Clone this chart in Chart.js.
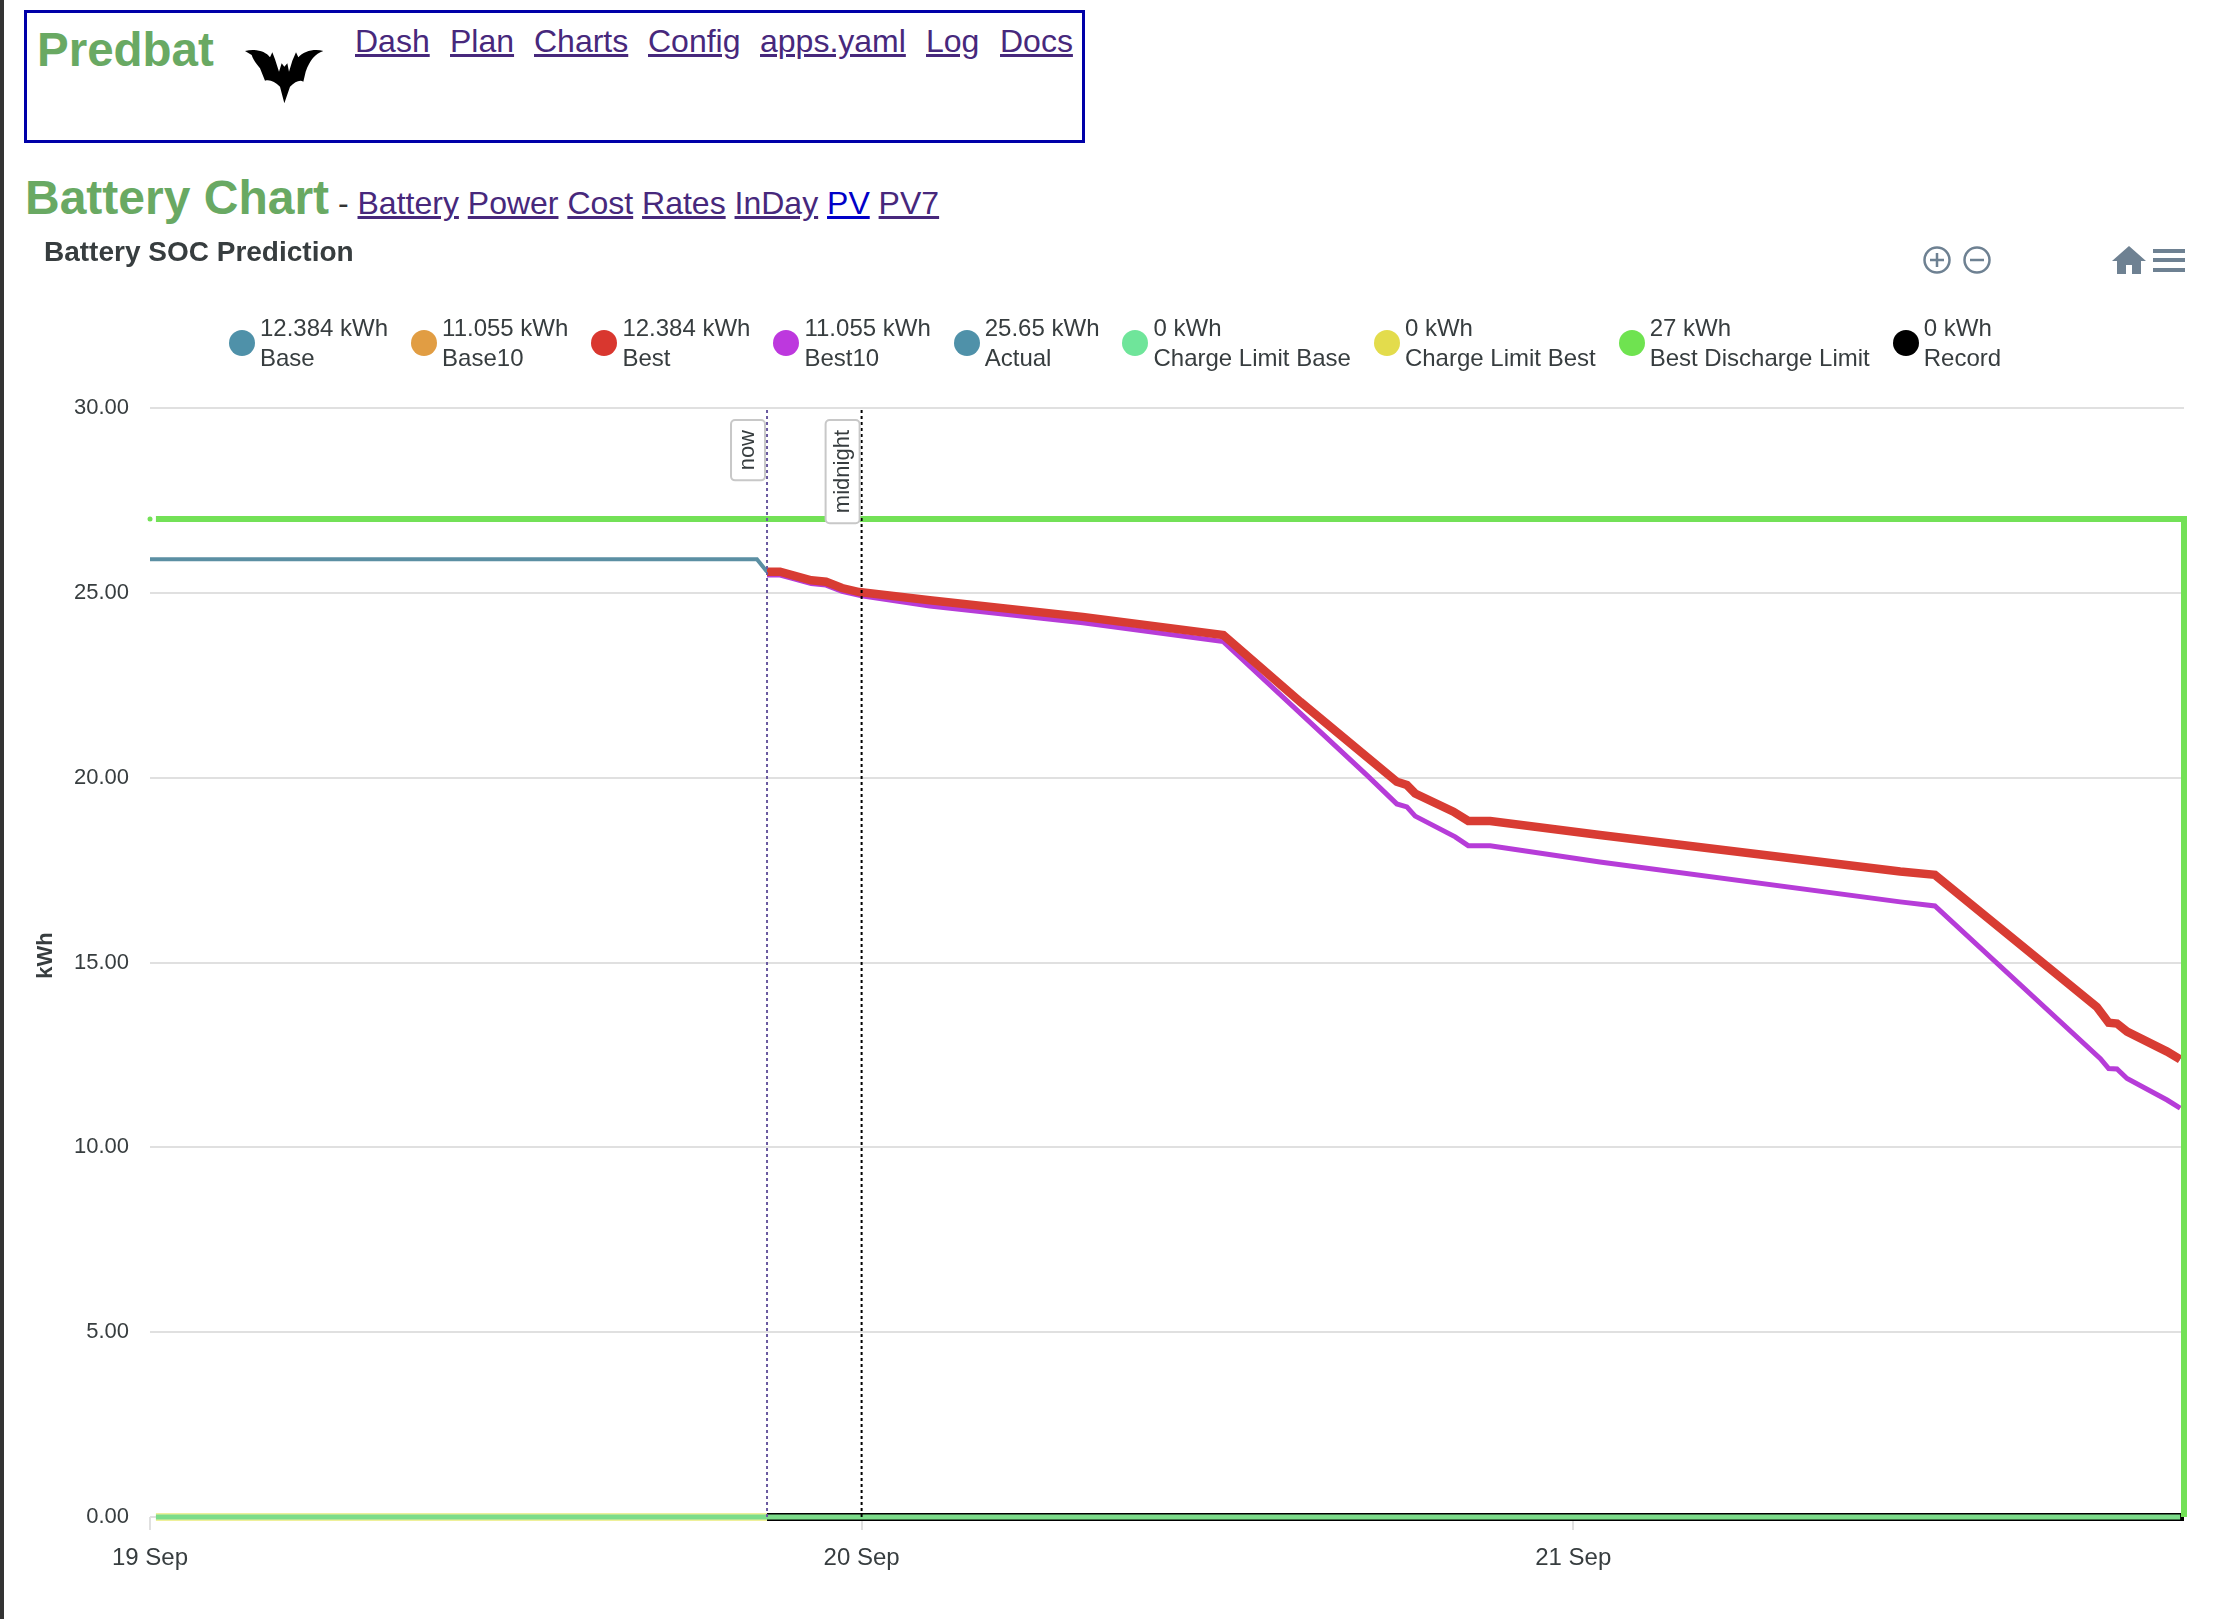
<!DOCTYPE html>
<html>
<head>
<meta charset="utf-8">
<title>Predbat Battery Chart</title>
<script src="https://cdn.jsdelivr.net/npm/chart.js@4/dist/chart.umd.min.js"></script>
<style>
    html, body { margin: 0; padding: 0; background: #fff; width: 2224px; height: 1619px; overflow: hidden; font-family: "Liberation Sans", Arial, sans-serif; }
    #edge { position: absolute; left: 0; top: 0; width: 4px; height: 1619px; background: #333; }
    #menu { position: absolute; left: 24px; top: 10px; width: 1055px; height: 127px; border: 3px solid #0000a8; }
    .logo { position: absolute; white-space: nowrap; color: #69a963; font-weight: bold; font-size: 47.5px; line-height: 54px; }
    a { color: #47287c; text-decoration: underline; font-size: 32px; position: absolute; white-space: nowrap; line-height: 38px; }
    a.fresh { color: #0000c8; }
    #heading { position: absolute; left: 25px; top: 171px; white-space: nowrap; color: #333; font-size: 32px; line-height: 54px; }
    #heading b.green { color: #69a963; font-size: 48px; }
    #heading a { position: static; }
    #bat { position: absolute; left: 235px; top: 40px; }
    #tools { position: absolute; left: 1900px; top: 230px; }
    canvas { position: absolute; left: 0; top: 220px; }
    #legend { position: absolute; left: 229px; top: 313px; display: flex; white-space: nowrap; color: #373d3f; font-size: 24px; line-height: 30px; }
    #legend .item { display: flex; align-items: center; margin-right: 23px; }
    #legend .dot { width: 26px; height: 26px; border-radius: 50%; margin-right: 5px; }
</style>
</head>
<body>
<div id="edge"></div>
<div id="menu"></div>
<div class="logo" style="left:37px;top:23px">Predbat</div>
<svg id="bat" width="100" height="70" viewBox="0 0 300 210"><path fill="#000" d="M30,33 C60,25 92,33 105,52 L112,37 L120,58 L132,95 L140,70 L148,80 L157,70 L162,95 L172,62 L183,37 L190,52 C205,33 240,25 265,33 C240,42 225,60 212,95 L205,125 C195,118 180,125 165,140 L148,190 L135,140 C120,125 105,118 90,122 L75,85 C65,70 55,62 50,45 Z"/></svg>
<a style="left:355px;top:22px">Dash</a>
<a style="left:450px;top:22px">Plan</a>
<a style="left:534px;top:22px">Charts</a>
<a style="left:648px;top:22px">Config</a>
<a style="left:760px;top:22px">apps.yaml</a>
<a style="left:926px;top:22px">Log</a>
<a style="left:1000px;top:22px">Docs</a>
<div id="heading"><b class="green">Battery Chart</b> - <a>Battery</a> <a>Power</a> <a>Cost</a> <a>Rates</a> <a>InDay</a> <a class="fresh">PV</a> <a>PV7</a></div>
<svg id="tools" width="300" height="60" viewBox="0 0 300 60">
    <g fill="none" stroke="#6e8192" stroke-width="2.5">
        <circle cx="37" cy="30" r="12.5"/><path d="M37,23 V37 M30,30 H44"/>
        <circle cx="77" cy="30" r="12.5"/><path d="M70,30 H84"/>
    </g>
    <path fill="#6e8192" d="M229,16 L212,31 H217 V44 H226 V35 H232 V44 H241 V31 H246 Z"/>
    <path fill="#6e8192" d="M253,19 H285 V23 H253 Z M253,28 H285 V32 H253 Z M253,38 H285 V42 H253 Z"/>
</svg>
<canvas id="chart" width="2224" height="1399"></canvas>
<div id="legend"></div>
<script>
"use strict";

// time axis is hours from 19 Sep 00:00
const dayLabels = ["19 Sep", "20 Sep", "21 Sep"];
const endHour = 68.6;
const nowHour = 20.81;
const midnightHour = 24;

const seriesNames = ["Base", "Base10", "Best", "Best10", "Actual", "Charge Limit Base", "Charge Limit Best", "Best Discharge Limit", "Record"];
const legendValues = ["12.384 kWh", "11.055 kWh", "12.384 kWh", "11.055 kWh", "25.65 kWh", "0 kWh", "0 kWh", "27 kWh", "0 kWh"];
const legendColors = ["#4f91a9", "#e19d43", "#d9372f", "#bd38de", "#4f91a9", "#6fe59a", "#e3dc4c", "#6fe350", "#000000"];

const bestHours = [20.81, 21.25, 21.66, 22.3, 22.8, 23.34, 23.92, 26.3, 31.46, 36.2, 38.8, 42.05, 42.39, 42.67, 43.96, 44.46, 45.2, 48.9, 59.03, 60.2, 65.66, 66.06, 66.34, 66.68, 68.03, 68.47];
const bestValues = [25.57, 25.57, 25.48, 25.34, 25.3, 25.13, 25.02, 24.8, 24.35, 23.86, 22.05, 19.89, 19.8, 19.57, 19.08, 18.83, 18.83, 18.45, 17.46, 17.37, 13.8, 13.37, 13.35, 13.13, 12.59, 12.38];
const best10Hours = [20.81, 21.25, 21.66, 22.3, 22.8, 23.34, 24, 26.3, 31.46, 36.2, 38.8, 41.04, 42.05, 42.39, 42.67, 44.02, 44.46, 45.2, 48.9, 59.03, 60.2, 65.78, 66.06, 66.34, 66.68, 68.03, 68.47];
const best10Values = [25.48, 25.48, 25.39, 25.25, 25.21, 25.04, 24.92, 24.64, 24.19, 23.68, 21.74, 20.07, 19.29, 19.21, 18.96, 18.4, 18.16, 18.16, 17.72, 16.64, 16.53, 12.4, 12.13, 12.12, 11.86, 11.28, 11.06];
const actualHours = [0, 20.47, 20.81];
const actualValues = [25.91, 25.91, 25.57];
const chargeLimitBaseHours = [0.2, 68.47];
const chargeLimitBaseValues = [0, 0];
const chargeLimitBestHours = [0.2, 20.81];
const chargeLimitBestValues = [0, 0];
const dischargeHours = [0, 0.2, 0.2, 68.6, 68.6];
const dischargeValues = [27, null, 27, 27, 0];
const recordHours = [20.7, 68.6];
const recordValues = [0, 0];

function toPoints(xs, ys) {
    return xs.map((x, i) => ({ x: x, y: ys[i] }));
}

function series(i, xs, ys, color, width, order) {
    return {
        label: seriesNames[i],
        data: toPoints(xs, ys),
        borderColor: color,
        backgroundColor: legendColors[i],
        borderWidth: width,
        pointRadius: 0,
        tension: 0,
        clip: false,
        order: order
    };
}

function markerLine(name, hour, color, width, dash) {
    return {
        label: name,
        data: toPoints([hour, hour], [0, 30]),
        borderColor: color,
        borderWidth: width,
        borderDash: dash,
        pointRadius: 0,
        clip: false,
        order: 0
    };
}

const datasets = [
    series(0, bestHours, bestValues, legendColors[0], 3, 9),
    series(1, best10Hours, best10Values, legendColors[1], 3, 8),
    series(2, bestHours, bestValues, "#d83c33", 8.5, 3),
    series(3, best10Hours, best10Values, "#b63cd8", 5, 4),
    series(4, actualHours, actualValues, "#5b8fa3", 4, 5),
    series(5, chargeLimitBaseHours, chargeLimitBaseValues, "#7cdc8a", 5, 1),
    series(6, chargeLimitBestHours, chargeLimitBestValues, "#eef09a", 8, 6),
    series(7, dischargeHours, dischargeValues, "#73e157", 6, 2),
    series(8, recordHours, recordValues, "#000000", 8, 7),
    markerLine("now", nowHour, "#6a5aa0", 2, [3, 3]),
    markerLine("midnight", midnightHour, "#000000", 2, [3, 3])
];
// lone dot at the very start of the discharge limit line
datasets[7].pointRadius = ctx => ctx.dataIndex === 0 ? 2.5 : 0;
datasets[7].pointBackgroundColor = "#73e157";
datasets[7].pointBorderWidth = 0;

// legend is html, the two line labels don't fit the built in one
document.getElementById("legend").innerHTML = seriesNames.map((name, i) =>
    `<div class="item"><span class="dot" style="background:${legendColors[i]}"></span><span>${legendValues[i]}<br>${name}</span></div>`
).join("");

// rotated now / midnight tags, and nudges the layout can't do on its own
const markerTags = {
    id: "markerTags",
    afterLayout(chart) {
        chart.titleBlock.left = 44;
        chart.scales.y.bottom -= 14; // axis title sits a little above centre
    },
    afterDatasetsDraw(chart) {
        const ctx = chart.ctx;
        const x = chart.scales.x;
        [["now", nowHour], ["midnight", midnightHour]].forEach(tag => {
            const px = x.getPixelForValue(tag[1]);
            ctx.save();
            ctx.font = "22px 'Liberation Sans', Arial, sans-serif";
            const len = ctx.measureText(tag[0]).width + 20;
            ctx.translate(px - 19, chart.chartArea.top + 12 + len / 2);
            ctx.rotate(-Math.PI / 2);
            ctx.beginPath();
            ctx.roundRect(-len / 2, -17, len, 34, 4);
            ctx.fillStyle = "#fff";
            ctx.fill();
            ctx.lineWidth = 2;
            ctx.strokeStyle = "#c8c8c8";
            ctx.stroke();
            ctx.fillStyle = "#373d3f";
            ctx.textAlign = "center";
            ctx.textBaseline = "middle";
            ctx.fillText(tag[0], 0, 0);
            ctx.restore();
        });
    }
};

Chart.defaults.font.family = "'Liberation Sans', Arial, sans-serif";
Chart.defaults.color = "#373d3f";

new Chart(document.getElementById("chart"), {
    type: "line",
    data: { datasets: datasets },
    plugins: [markerTags],
    options: {
        responsive: false,
        animation: false,
        devicePixelRatio: 1,
        layout: { padding: { left: 33, right: 40, top: 0, bottom: 0 } },
        plugins: {
            tooltip: { enabled: false },
            legend: { display: false },
            title: {
                display: true,
                text: "Battery SOC Prediction",
                align: "start",
                color: "#373d3f",
                font: { size: 28, weight: "bold" },
                padding: { top: 16, bottom: 138.4 }
            }
        },
        scales: {
            x: {
                type: "linear",
                min: 0,
                max: endHour,
                border: { display: false },
                grid: { drawOnChartArea: false, drawTicks: true, tickLength: 13, color: "#e0e0e0", lineWidth: 2 },
                ticks: {
                    stepSize: 24,
                    includeBounds: false,
                    autoSkip: false,
                    maxRotation: 0,
                    padding: 14,
                    font: { size: 24 },
                    callback: value => dayLabels[value / 24]
                },
                afterFit: scale => { scale.height = 102; }
            },
            y: {
                min: 0,
                max: 30,
                border: { display: false },
                grid: { color: "#e0e0e0", lineWidth: 2, drawTicks: false },
                title: { display: true, text: "kWh", font: { size: 22, weight: "bold" }, padding: 0 },
                ticks: {
                    stepSize: 5,
                    padding: 21,
                    font: { size: 22 },
                    callback: value => value.toFixed(2)
                },
                afterFit: scale => { scale.width = 117; }
            }
        }
    }
});
</script>
</body>
</html>
